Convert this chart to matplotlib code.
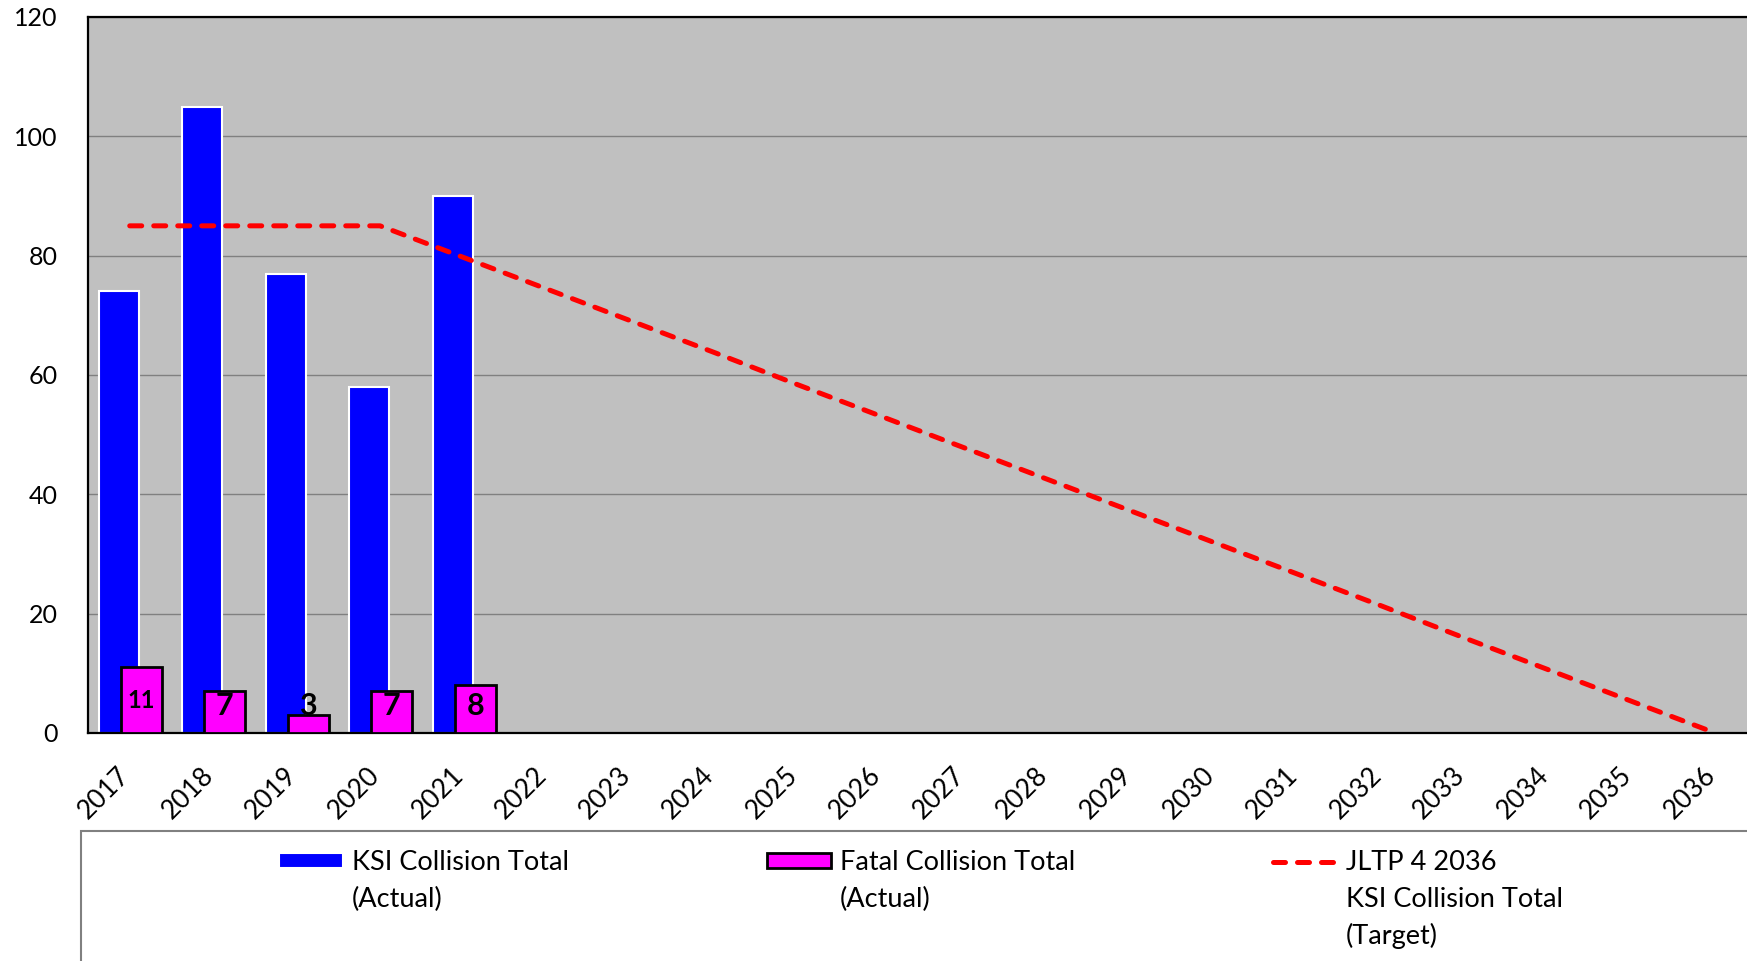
import matplotlib
matplotlib.use('Agg')
import matplotlib.pyplot as plt
import matplotlib.transforms as mtransforms
from matplotlib.patches import Patch, Rectangle
import numpy as np

plt.rcParams['font.family'] = ['Lato', 'DejaVu Sans']

years = ['2017', '2018', '2019', '2020', '2021', '2022', '2023', '2024', '2025', '2026',
         '2027', '2028', '2029', '2030', '2031', '2032', '2033', '2034', '2035', '2036']
ksi_actual = [74, 105, 77, 58, 90]
fatal_actual = [11, 7, 3, 7, 8]
ksi_target = [85, 85, 85, 85, 79.7, 74.4, 69.1, 63.8, 58.4, 53.1,
              47.8, 42.5, 37.2, 31.9, 26.6, 21.3, 15.9, 10.6, 5.3, 0]
y_ticks = [0, 20, 40, 60, 80, 100, 120]

W, H = 1747, 961
fig = plt.figure(figsize=(W / 100, H / 100), dpi=100)
ax = fig.add_axes([88 / W, 1 - 733 / H, (1757 - 88) / W, (733 - 17) / H])

x = np.arange(len(years))
n = len(ksi_actual)

ax.set_facecolor('#c0c0c0')
ax.bar(x[:n] - 0.13, ksi_actual, width=0.48, color='#0000ff',
       edgecolor='white', linewidth=1.5, zorder=2)
ax.bar(x[:n] + 0.14, fatal_actual, width=0.49, color='#ff00ff',
       edgecolor='black', linewidth=2, zorder=3)
target_line, = ax.plot(x, ksi_target, color='#ff0000', lw=3.6, dashes=(2.4, 2.4),
                       dash_capstyle='round', zorder=4)

# labels on fatal bars
for xi, v in zip(x[:n], fatal_actual):
    ax.text(xi + 0.14, max(v / 2, 4.5), str(v), ha='center', va='center',
            fontweight='bold', fontsize=22 if v < 10 else 17, zorder=5)

ax.set_xlim(-0.5, len(years) - 0.5)
ax.set_ylim(0, 120)
ax.set_yticks(y_ticks)
ax.set_xticks(x, years, rotation=45, ha='right', va='top')
ax.tick_params(axis='both', length=0, labelsize=18)
ax.tick_params(axis='y', pad=22)
ax.tick_params(axis='x', pad=21, labelsize=19)
shift = mtransforms.ScaledTranslation(5 / 100, 0, fig.dpi_scale_trans)
for lab in ax.get_xticklabels():
    lab.set_transform(lab.get_transform() + shift)

ax.grid(axis='y', color='#808080', lw=1)
ax.set_axisbelow(True)
for side in ['left', 'top', 'bottom']:
    ax.spines[side].set_color('black')
    ax.spines[side].set_linewidth(1.6)
ax.spines['right'].set_visible(False)

# legend frame
fig.add_artist(Rectangle((81 / W, -0.05), 1.0, 0.05 + (1 - 831 / H),
                         transform=fig.transFigure, fill=False,
                         edgecolor='#808080', lw=1.5))

entries = [
    (Patch(facecolor='#0000ff', edgecolor='white', lw=1.5), 'KSI Collision Total', 279, ['(Actual)']),
    (Patch(facecolor='#ff00ff', edgecolor='black', lw=2), 'Fatal Collision Total', 767, ['(Actual)']),
    (target_line, 'JLTP 4 2036', 1273, ['KSI Collision Total', '(Target)']),
]
legends = []
for handle, label, xpix, more in entries:
    leg = fig.legend(handles=[handle], labels=[label], loc='center left',
                     bbox_to_anchor=(xpix / W, 1 - 863 / H), frameon=False,
                     fontsize=19.5, handlelength=2.35, handleheight=0.48,
                     handletextpad=0.33, borderpad=0, borderaxespad=0)
    legends.append((leg, more))

fig.canvas.draw()
for leg, more in legends:
    bb = leg.get_texts()[0].get_window_extent()
    for i, line in enumerate(more):
        fig.text(bb.x0 / W, 1 - (863 + 36.5 * (i + 1)) / H, line,
                 ha='left', va='center', fontsize=19.5)

fig.savefig('out.png', dpi=100)
